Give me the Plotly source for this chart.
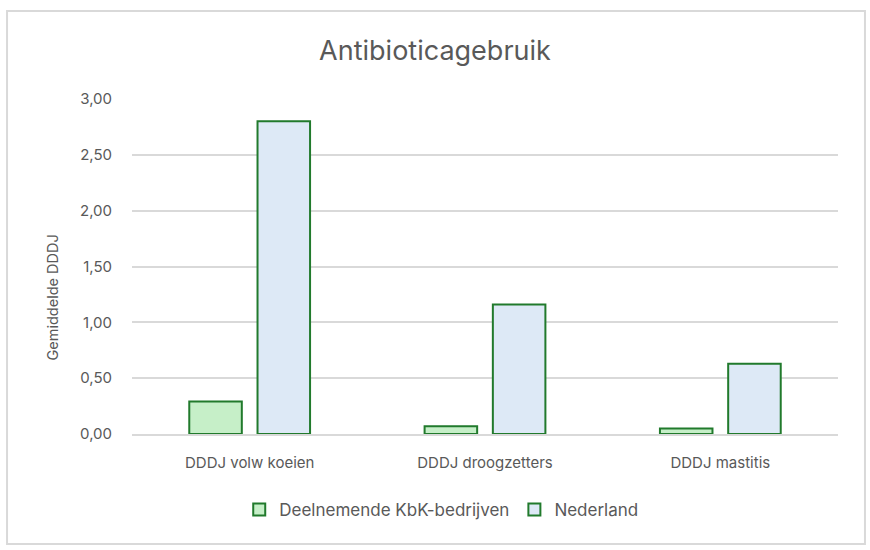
import plotly.graph_objects as go

categories = ["DDDJ volw koeien", "DDDJ droogzetters", "DDDJ mastitis"]
kbk_values = [0.29, 0.07, 0.05]
nl_values = [2.80, 1.16, 0.63]
y_ticks = [0, 0.5, 1.0, 1.5, 2.0, 2.5, 3.0]
y_tick_labels = ["0,00", "0,50", "1,00", "1,50", "2,00", "2,50", "3,00"]

FONT = "Inter, Open Sans, sans-serif"
GREY = "#595959"
EDGE = "#217a2c"

fig = go.Figure()

fig.add_trace(
    go.Bar(
        x=categories,
        y=kbk_values,
        name="Deelnemende KbK-bedrijven",
        marker=dict(color="#c6efc8", line=dict(color=EDGE, width=2)),
    )
)

fig.add_trace(
    go.Bar(
        x=categories,
        y=nl_values,
        name="Nederland",
        marker=dict(color="#dde9f6", line=dict(color=EDGE, width=2)),
    )
)

fig.update_layout(
    width=870,
    height=550,
    margin=dict(l=132, r=32, t=99, b=116),
    paper_bgcolor="white",
    plot_bgcolor="white",
    font=dict(family=FONT, color=GREY, size=15),
    title=dict(
        text="Antibioticagebruik",
        x=0.5,
        xanchor="center",
        y=0.909,
        yanchor="middle",
        font=dict(size=27, color=GREY, family=FONT),
    ),
    barmode="group",
    bargap=0.42,
    bargroupgap=0.23,
    showlegend=True,
    legend=dict(
        orientation="h",
        x=0.438,
        xanchor="center",
        y=-0.227,
        yanchor="middle",
        font=dict(size=17, color=GREY),
        traceorder="normal",
    ),
    xaxis=dict(
        showgrid=False,
        showline=True,
        linecolor="#d9d9d9",
        linewidth=2,
        ticks="",
        ticklabelstandoff=14,
        tickfont=dict(size=15, color=GREY),
    ),
    yaxis=dict(
        range=[0, 3],
        tickvals=y_ticks,
        ticktext=y_tick_labels,
        showgrid=True,
        gridcolor="#d9d9d9",
        gridwidth=1.5,
        zeroline=False,
        ticks="",
        ticklabelstandoff=19,
        tickfont=dict(size=15, color=GREY),
    ),
    shapes=[
        dict(
            type="rect",
            xref="paper",
            yref="paper",
            x0=-0.177,
            x1=1.0382,
            y0=-0.328,
            y1=1.263,
            line=dict(color="#d9d9d9", width=2),
            fillcolor="rgba(0,0,0,0)",
            layer="below",
        )
    ],
    annotations=[
        dict(
            text="Gemiddelde DDDJ",
            xref="paper",
            yref="paper",
            x=-0.113,
            y=0.408,
            xanchor="center",
            yanchor="middle",
            textangle=-90,
            showarrow=False,
            font=dict(size=14.5, color=GREY, family=FONT),
        )
    ],
)

# drop the default 8px body margin so the figure sits at the window origin
fig.write_html(
    "out.html",
    config={"displayModeBar": False},
    post_script="document.body.style.margin = '0';",
)
